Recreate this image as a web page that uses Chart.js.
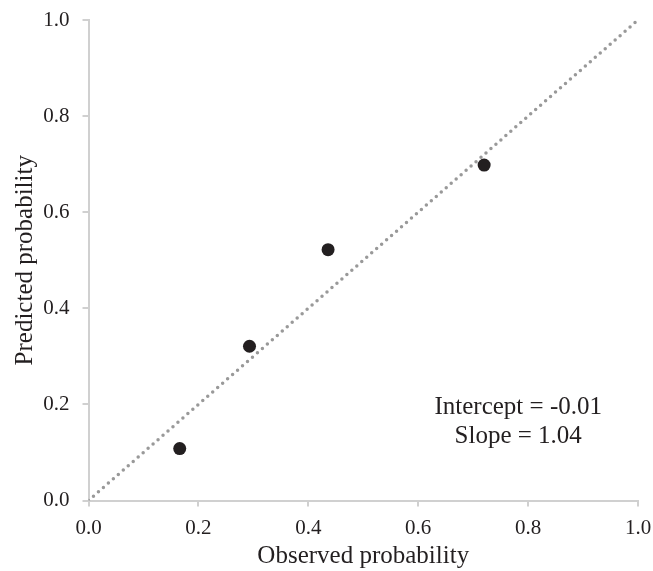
<!DOCTYPE html>
<html>
<head>
<meta charset="utf-8">
<script src="https://cdn.jsdelivr.net/npm/chart.js@4/dist/chart.umd.min.js"></script>
<style>
html,body{margin:0;padding:0;background:#fff;}
#wrap{width:653px;height:571px;}
</style>
</head>
<body>
<div id="wrap"><canvas id="c" width="653" height="571"></canvas></div>
<script>
const observed = [0.166, 0.293, 0.436, 0.720];
const predicted = [0.108, 0.321, 0.522, 0.698];
const refX = [0, 1];
const refY = [0, 1];
const tickValues = [0, 0.2, 0.4, 0.6, 0.8, 1.0];
const xTitle = 'Observed probability';
const yTitle = 'Predicted probability';
const annotLines = ['Intercept = -0.01', 'Slope = 1.04'];
const annotX = 0.782;
const annotY = [0.194, 0.133];

const FONT = "'Liberation Serif', 'Times New Roman', serif";
const axisColor = '#d0d0d0';

const annotPlugin = {
  id: 'annot',
  afterDatasetsDraw(chart) {
    const ctx = chart.ctx;
    const xs = chart.scales.x, ys = chart.scales.y;
    ctx.save();
    ctx.font = '25px ' + FONT;
    ctx.fillStyle = '#231f20';
    ctx.textAlign = 'center';
    ctx.textBaseline = 'middle';
    annotLines.forEach((t, i) => {
      ctx.fillText(t, xs.getPixelForValue(annotX), ys.getPixelForValue(annotY[i]));
    });
    ctx.restore();
  }
};

new Chart(document.getElementById('c'), {
  data: {
    datasets: [
      {
        type: 'scatter',
        data: observed.map((v, i) => ({x: v, y: predicted[i]})),
        pointRadius: 6.5,
        pointBackgroundColor: '#231f20',
        pointBorderColor: '#231f20',
        pointBorderWidth: 0
      },
      {
        type: 'line',
        data: refX.map((v, i) => ({x: v, y: refY[i]})),
        borderColor: '#999999',
        borderWidth: 3.5,
        borderDash: [0, 6.6],
        borderCapStyle: 'round',
        pointRadius: 0,
        fill: false
      }
    ]
  },
  options: {
    responsive: false,
    animation: false,
    layout: { padding: { top: 20, right: 15, left: 0, bottom: 0 } },
    plugins: { legend: { display: false }, tooltip: { enabled: false } },
    scales: {
      x: {
        type: 'linear', min: 0, max: 1,
        afterBuildTicks(s) { s.ticks = tickValues.map(v => ({value: v})); },
        afterFit(s) { s.height = 70.5; s.paddingLeft = 0; s.paddingRight = 0; },
        ticks: {
          callback: v => v.toFixed(1),
          font: { family: FONT, size: 21 },
          color: '#231f20',
          padding: 9,
          maxRotation: 0
        },
        grid: { drawOnChartArea: false, drawTicks: true, tickLength: 6, color: axisColor, lineWidth: 2 },
        border: { color: axisColor, width: 2 },
        title: {
          display: true, text: xTitle,
          font: { family: FONT, size: 25 }, color: '#231f20',
          padding: { top: 0, bottom: 0 }
        }
      },
      y: {
        type: 'linear', min: 0, max: 1,
        afterBuildTicks(s) { s.ticks = tickValues.map(v => ({value: v})); },
        afterFit(s) { s.width = 88.5; s.paddingTop = 0; s.paddingBottom = 0; },
        ticks: {
          callback: v => v.toFixed(1),
          font: { family: FONT, size: 21 },
          color: '#231f20',
          padding: 13
        },
        grid: { drawOnChartArea: false, drawTicks: true, tickLength: 6, color: axisColor, lineWidth: 2 },
        border: { color: axisColor, width: 2 },
        title: {
          display: true, text: yTitle,
          font: { family: FONT, size: 25 }, color: '#231f20',
          padding: { top: 10, bottom: 0 }
        }
      }
    }
  },
  plugins: [annotPlugin]
});
</script>
</body>
</html>
